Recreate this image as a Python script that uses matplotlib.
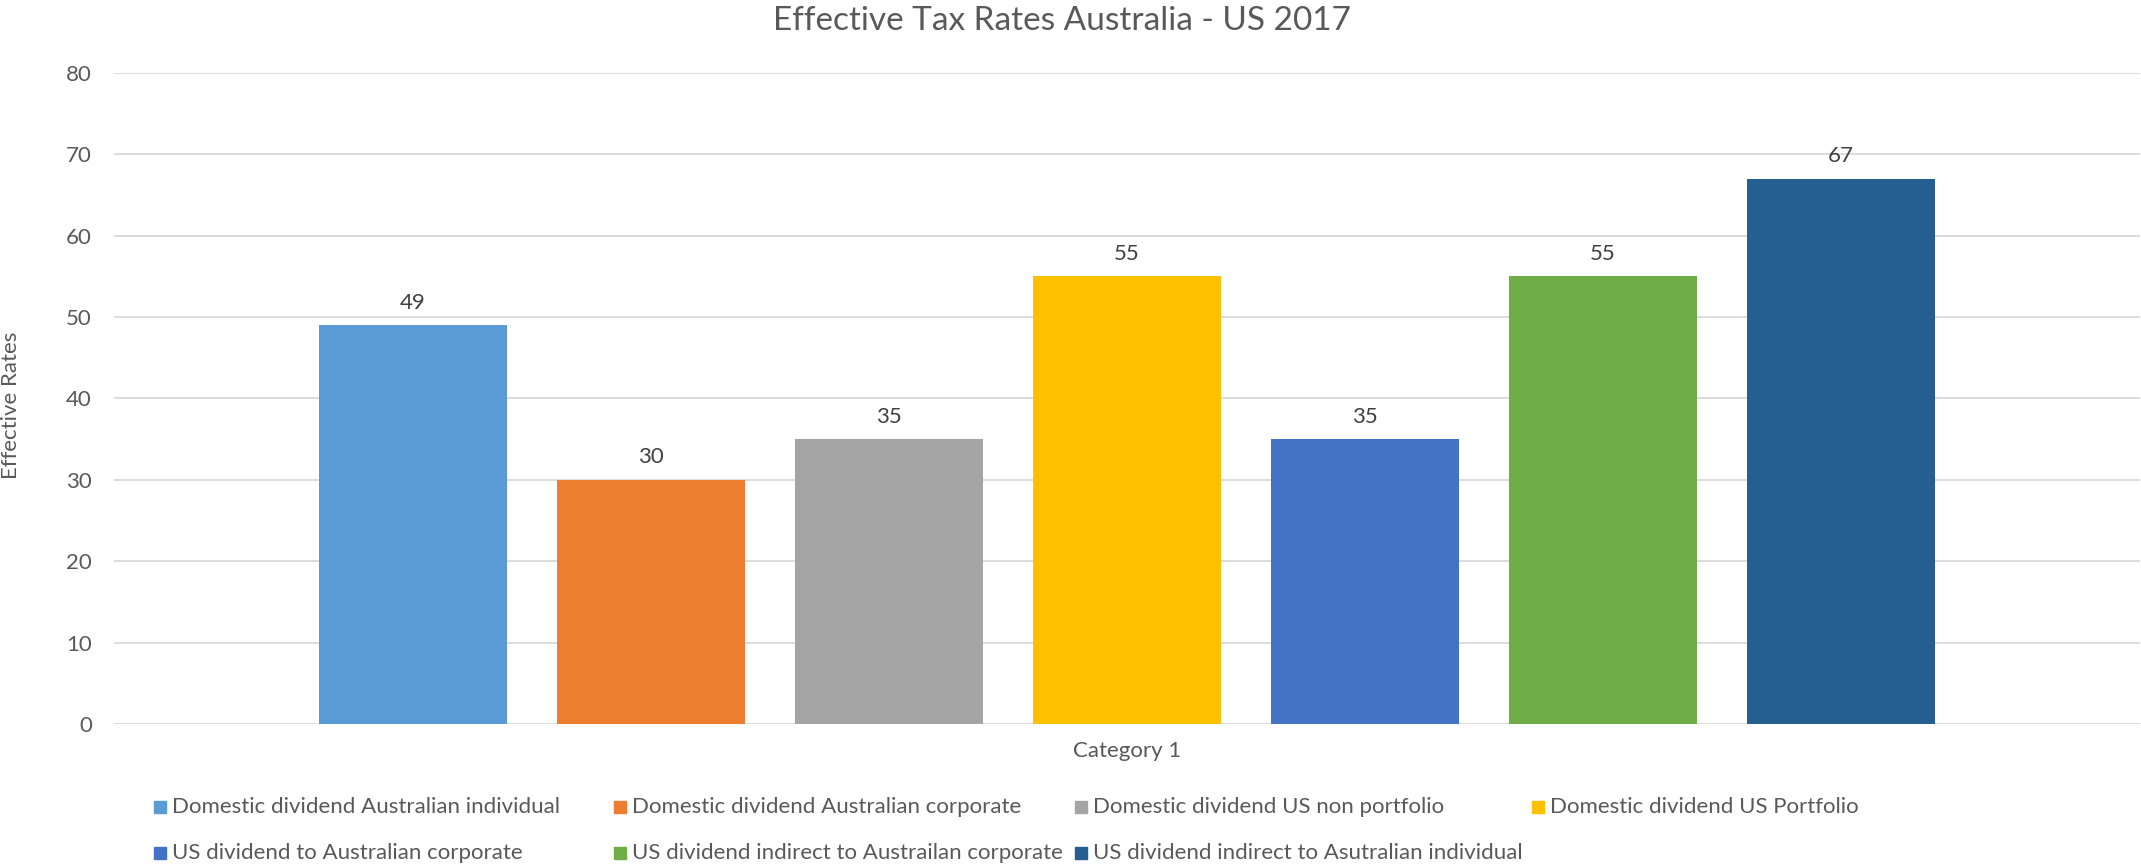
"""Effective Tax Rates Australia - US 2017: clustered bar chart, single category."""

import matplotlib
matplotlib.use('Agg')
import matplotlib.pyplot as plt
from matplotlib.patches import Rectangle
import numpy as np


# --- Data ---
CATEGORY = "Category 1"
SERIES = [
    "Domestic dividend Australian individual",
    "Domestic dividend Australian corporate",
    "Domestic dividend US non portfolio",
    "Domestic dividend US Portfolio",
    "US dividend to Australian corporate",
    "US dividend indirect to Austrailan corporate",
    "US dividend indirect to Asutralian individual",
]
RATES = [49, 30, 35, 55, 35, 55, 67]
COLORS = ["#5B9BD5", "#ED7D31", "#A5A5A5", "#FFC000",
          "#4472C4", "#70AD47", "#255E91"]
Y_TICKS = [0, 10, 20, 30, 40, 50, 60, 70, 80]

TEXT_GREY = "#595959"
GRID_GREY = "#D9D9D9"
FONT = ["Lato", "DejaVu Sans"]


def main():
    W, H = 2141, 865
    plt.rcParams['font.family'] = FONT
    fig = plt.figure(figsize=(W / 100, H / 100), dpi=100)

    # plot area in pixels: x 114..2140, y 73..724
    ax = fig.add_axes([114 / W, 1 - 724 / H, (2140 - 114) / W, (724 - 73) / H])

    n = len(RATES)
    pitch = 1.0
    width = 188 / 238
    offsets = (np.arange(n) - (n - 1) / 2) * pitch
    half = (2140 - 114) / 2 / 238

    bars = ax.bar(offsets, RATES, width=width, color=COLORS, zorder=3)
    for b, v in zip(bars, RATES):
        ax.annotate(f"{v}", xy=(b.get_x() + b.get_width() / 2, v),
                    xytext=(0, 12), textcoords='offset points',
                    ha='center', va='baseline', fontsize=16, color="#404040")

    ax.set_xlim(-half, half)
    ax.set_ylim(0, 80)
    ax.set_yticks(Y_TICKS)
    ax.set_xticks([])
    ax.tick_params(axis='y', length=0, pad=16, labelsize=16, labelcolor=TEXT_GREY)
    ax.grid(axis='y', color=GRID_GREY, linewidth=1.3, zorder=0)
    for s in ax.spines.values():
        s.set_visible(False)

    fig.text(1127 / W, 1 - 751 / H, CATEGORY, ha='center', va='center',
             fontsize=16, color=TEXT_GREY)
    fig.text(11 / W, 1 - 405 / H, "Effective Rates", rotation=90,
             ha='center', va='center', fontsize=16, color=TEXT_GREY)
    fig.text(1062 / W, 1 - 21 / H, "Effective Tax Rates Australia - US 2017",
             ha='center', va='center', fontsize=24, color=TEXT_GREY)

    # legend: 4 equal columns, 2 rows
    col_x = [154, 614, 1075, 1532]
    row_y = [807, 853]
    sq = 12
    for i, (name, c) in enumerate(zip(SERIES, COLORS)):
        x0 = col_x[i % 4]
        yc = row_y[i // 4]
        fig.patches.append(Rectangle((x0 / W, (H - yc - sq / 2) / H), sq / W, sq / H,
                                     transform=fig.transFigure, color=c))
        fig.text((x0 + sq + 6) / W, 1 - yc / H, name, ha='left', va='center',
                 fontsize=16, color=TEXT_GREY)

    fig.savefig("out.png", dpi=100)
    plt.close(fig)


if __name__ == "__main__":
    main()
